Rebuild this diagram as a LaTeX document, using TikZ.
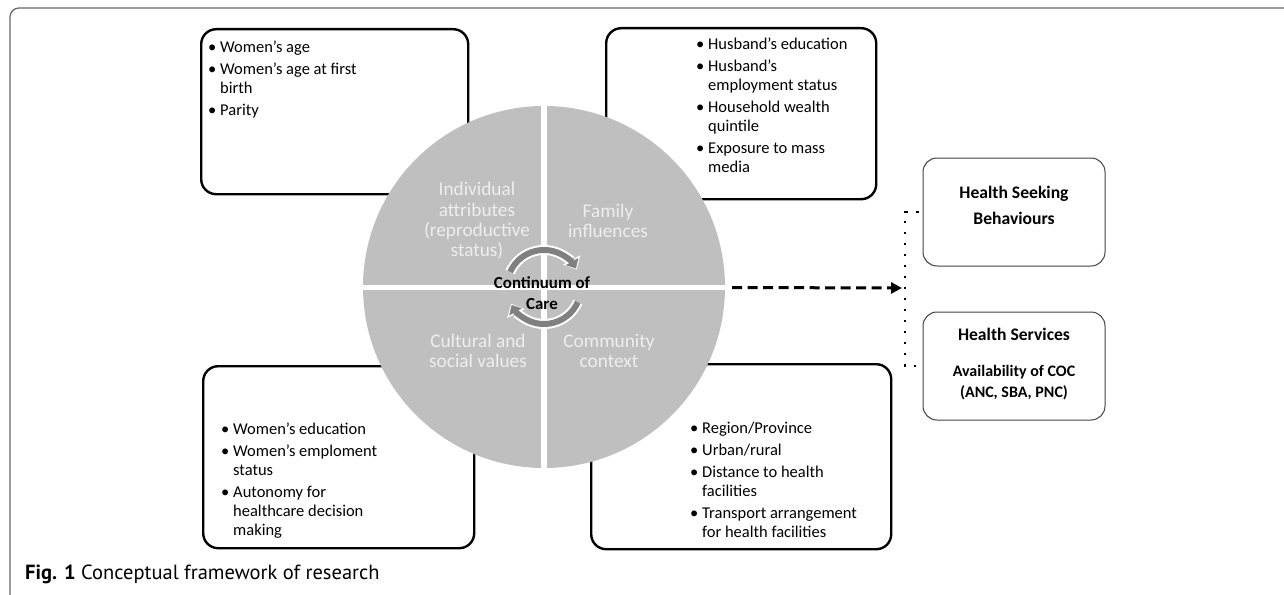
\documentclass[tikz,border=0pt]{standalone}
\usepackage{fontspec}
\setmainfont{Carlito}
\newfontfamily\capfont{PT Sans}
\usetikzlibrary{arrows.meta}

\definecolor{wheelgray}{RGB}{191,191,191}
\definecolor{cyclegray}{RGB}{128,128,128}
\definecolor{wheeltext}{RGB}{238,238,238}
\newcommand{\bl}{\makebox[12pt][l]{\textbullet}}
\newcommand{\ind}{\hspace*{12pt}}

\begin{document}
\begin{tikzpicture}[x=1pt, y=-1pt]
	\tikzstyle{every node}=[inner sep=0pt]
	\tikzstyle{listbox}=[draw, line width=2.4pt, rounded corners=15pt, anchor=north west]
	\tikzstyle{listtext}=[anchor=north west, align=left, font=\fontsize{16.5}{19}\selectfont]
	\tikzstyle{wheellabel}=[text=wheeltext, align=center, font=\fontsize{19.3}{20.4}\selectfont]
	\tikzstyle{outcome}=[draw=black!75, line width=1pt, rounded corners=14pt, minimum width=182pt, minimum height=108pt]
	\tikzstyle{cyclewhite}=[white, line width=10pt, -{Triangle[length=11pt, width=19pt]}]
	\tikzstyle{cycle}=[cyclegray, line width=6pt, -{Triangle[length=8pt, width=14pt]}]
	\useasboundingbox (0,0) rectangle (1284,594);
	% outer frame
	\draw[black!60, line width=1.2pt, rounded corners=9pt] (10,600) -- (10,8) -- (1290,8);
	% factor boxes
	\node[listbox, minimum width=267pt, minimum height=165pt] (indbox) at (200,28) {};
	\node[listbox, minimum width=270pt, minimum height=171pt] (fambox) at (605,27) {};
	\node[listbox, minimum width=271pt, minimum height=182pt] (culbox) at (202,365) {};
	\node[listbox, minimum width=300pt, minimum height=185pt] (combox) at (590,363) {};
	% wheel
	\node[circle, fill=wheelgray, minimum size=362pt] (wheel) at (544,287) {};
	\draw[white, line width=6pt] (wheel.north) -- (wheel.south);
	\draw[white, line width=5pt] (wheel.west) -- (wheel.east);
	\node[listtext] (indlist) at (208,41) {\bl Women's age\\[3pt]\bl Women's age at first\\\ind birth\\[3pt]\bl Parity};
	\node[listtext] (famlist) at (696,38) {\bl Husband's education\\[3pt]\bl Husband's\\\ind employment status\\[3pt]\bl Household wealth\\\ind quintile\\[3pt]\bl Exposure to mass\\\ind media};
	\node[listtext] (cullist) at (221,423) {\bl Women's education\\[3pt]\bl Women's emploment\\\ind status\\[3pt]\bl Autonomy for\\\ind healthcare decision\\\ind making};
	\node[listtext] (comlist) at (690,422) {\bl Region/Province\\[3pt]\bl Urban/rural\\[3pt]\bl Distance to health\\\ind facilities\\[3pt]\bl Transport arrangement\\\ind for health facilities};
	\node[wheellabel] (ind) at (477,221) {Individual\\attributes\\(reproductive\\status)};
	\node[wheellabel] (fam) at (608,221) {Family\\influences};
	\node[wheellabel] (cul) at (478,351) {Cultural and\\social values};
	\node[wheellabel] (com) at (609,351) {Community\\context};
	\draw[cyclewhite] (wheel.center) ++(-156:37) arc[start angle=-156, end angle=-28, radius=37];
	\draw[cyclewhite] (wheel.center) ++(24:37) arc[start angle=24, end angle=153, radius=37];
	\draw[cycle] (wheel.center) ++(-156:37) arc[start angle=-156, end angle=-30, radius=37];
	\draw[cycle] (wheel.center) ++(24:37) arc[start angle=24, end angle=151, radius=37];
	\node[align=center, font=\bfseries\fontsize{16.9}{21}\selectfont] (coc) at (542,293) {Continuum of\\Care};
	% outcomes
	\node[outcome] (hsb) at (1014,212) {};
	\node[outcome] (hs) at (1014,366) {};
	\node[align=center, font=\bfseries\fontsize{17.6}{26}\selectfont] (hsbtext) at (1014,205) {Health Seeking\\Behaviours};
	\node[font=\bfseries\fontsize{17.6}{21}\selectfont] (hstext) at (1014,334) {Health Services};
	\node[align=center, font=\bfseries\fontsize{16}{21}\selectfont] (hsnote) at (1014,383) {Availability of COC\\(ANC, SBA, PNC)};
	\coordinate (fork) at (905,288);
	\draw[black, line width=2.6pt, dash pattern=on 2.6pt off 8.4pt] ([xshift=-4pt]hsb.west) -| (fork) |- ([xshift=-4pt]hs.west);
	\draw[line width=3pt, dash pattern=on 10pt off 5.5pt, -{Triangle[length=11pt, width=11pt]}, shorten <=7pt, shorten >=3pt] (wheel) -- (fork);
	% caption
	\node[anchor=base west, font=\capfont\fontsize{20.5}{22}\selectfont] (caption) at (25,579) {\textbf{Fig. 1} Conceptual framework of research};
\end{tikzpicture}
\end{document}
